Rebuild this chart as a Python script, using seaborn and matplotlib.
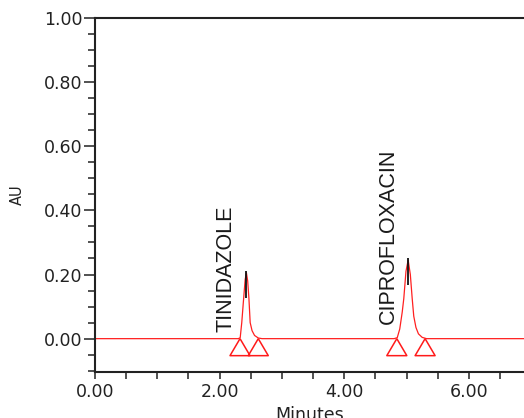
import numpy as np
import pandas as pd
import matplotlib
matplotlib.use("Agg")
import matplotlib.pyplot as plt
from matplotlib.ticker import MultipleLocator, FixedLocator, FormatStrFormatter
import seaborn as sns

# ---- data ----
# baseline + peak trace (minutes, AU)
trace_time = [0.00,
              2.30, 2.33, 2.355, 2.385, 2.41, 2.43, 2.45, 2.47, 2.49, 2.52, 2.56, 2.62, 2.68,
              4.80, 4.85, 4.89, 4.93, 4.955, 4.99, 5.025, 5.06, 5.09, 5.115, 5.15, 5.19, 5.25, 5.32,
              6.90]
trace_au = [0.000,
            0.000, 0.003, 0.050, 0.125, 0.185, 0.205, 0.180, 0.125, 0.050, 0.025, 0.010, 0.002, 0.000,
            0.000, 0.003, 0.030, 0.083, 0.125, 0.210, 0.245, 0.200, 0.125, 0.070, 0.035, 0.015, 0.004, 0.000,
            0.000]

peak_names = ["TINIDAZOLE", "CIPROFLOXACIN"]
peak_rt = [2.43, 5.025]
peak_height = [0.205, 0.245]

# integration start/end markers (minutes)
marker_time = [2.327, 2.62, 4.843, 5.297]
marker_au = [0.0, 0.0, 0.0, 0.0]

xticks = [0.0, 2.0, 4.0, 6.0]
yticks = [0.0, 0.2, 0.4, 0.6, 0.8, 1.0]

# ---- plotting ----
sns.set_style("ticks")
plt.rcParams["font.family"] = ["DejaVu Sans"]

fig = plt.figure(figsize=(5.24, 4.18), dpi=100)
ax = fig.add_axes([95 / 524, 46 / 418, 430 / 524, 354 / 418])

df = pd.DataFrame({"Minutes": trace_time, "AU": trace_au})
sns.lineplot(data=df, x="Minutes", y="AU", ax=ax, color="#ff2020",
             linewidth=0.9, sort=False, estimator=None)

tri = [(0, 0), (-10, -17), (10, -17), (0, 0)]
sns.scatterplot(x=marker_time, y=marker_au, ax=ax, marker=tri, s=600,
                facecolor="none", edgecolor="#ff1a1a", linewidth=1.1, zorder=4)

ax.vlines(peak_rt, [h - 0.078 for h in peak_height], [h + 0.007 for h in peak_height],
          color="#111111", linewidth=1.3, zorder=5)

label_y = [0.02, 0.046]
for name, rt, ly in zip(peak_names, peak_rt, label_y):
    ax.text(rt - 0.32, ly, name, rotation=90, ha="center", va="bottom",
            fontsize=15.5, color="#1a1a1a", family=["Liberation Sans", "DejaVu Sans"])

ax.set_xlim(0, 6.9)
ax.set_ylim(-0.104, 1.0)

ax.xaxis.set_major_locator(FixedLocator(xticks))
ax.xaxis.set_minor_locator(MultipleLocator(0.5))
ax.yaxis.set_major_locator(FixedLocator(yticks))
ax.yaxis.set_minor_locator(MultipleLocator(0.05))
ax.xaxis.set_major_formatter(FormatStrFormatter("%.2f"))
ax.yaxis.set_major_formatter(FormatStrFormatter("%.2f"))

ax.tick_params(axis="x", which="both", direction="out", length=4.7, width=1.1,
               color="#222222", labelsize=12.5, labelcolor="#222222", pad=3)
ax.tick_params(axis="y", which="major", direction="out", length=8, width=1.1,
               color="#222222", labelsize=12.5, labelcolor="#222222", pad=1)
ax.tick_params(axis="y", which="minor", direction="out", length=5, width=1.1,
               color="#222222")

for side in ["left", "bottom", "top"]:
    ax.spines[side].set_linewidth(1.5)
    ax.spines[side].set_color("#222222")
ax.spines["right"].set_visible(False)

ax.set_xlabel("Minutes", fontsize=12.5, color="#222222", labelpad=4)
ax.set_ylabel("AU", fontsize=10.5, color="#222222", labelpad=14)

fig.savefig("out.png", dpi=100)
